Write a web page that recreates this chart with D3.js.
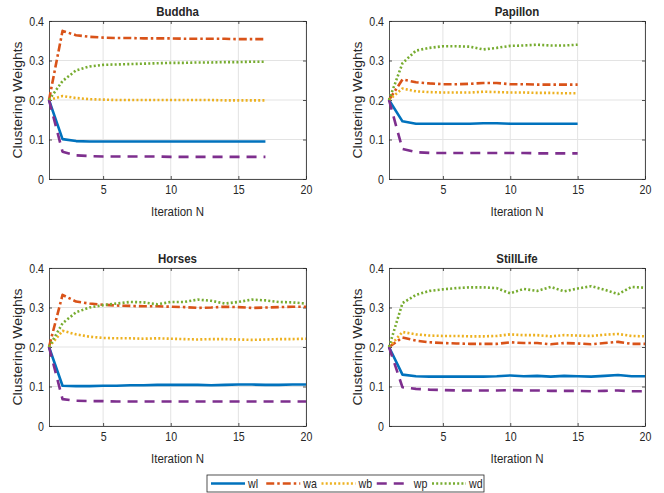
<!DOCTYPE html>
<html><head><meta charset="utf-8">
<script src="https://cdn.jsdelivr.net/npm/d3@7"></script>
<style>body{margin:0;background:#fff}svg{display:block}</style>
</head><body>
<script>
// ---------- data ----------
const seriesNames = ["wl","wa","wb","wp","wd"];
const seriesColors = ["#0072BD","#D95319","#EDB120","#7E2F8E","#77AC30"];
const seriesDash = ["none","8,3,2.5,3","2,2.2","10,7","2,2.2"];
const xTicks = [5,10,15,20];
const yTicks = [0,0.1,0.2,0.3,0.4];
const panelTitles = ["Buddha","Papillon","Horses","StillLife"];

const buddha_wl = [0.2,0.101,0.096,0.095,0.095,0.095,0.095,0.095,0.095,0.095,0.095,0.095,0.095,0.095,0.095,0.095,0.095];
const buddha_wa = [0.2,0.375,0.364,0.36,0.358,0.357,0.357,0.356,0.356,0.356,0.355,0.355,0.355,0.355,0.354,0.354,0.354];
const buddha_wb = [0.2,0.21,0.205,0.202,0.201,0.2,0.2,0.2,0.2,0.2,0.2,0.2,0.2,0.199,0.199,0.199,0.199];
const buddha_wp = [0.2,0.069,0.06,0.058,0.057,0.057,0.057,0.057,0.057,0.056,0.056,0.056,0.056,0.056,0.056,0.056,0.056];
const buddha_wd = [0.2,0.248,0.275,0.285,0.289,0.29,0.291,0.292,0.293,0.294,0.294,0.295,0.295,0.296,0.296,0.297,0.297];

const papillon_wl = [0.2,0.146,0.14,0.14,0.14,0.14,0.14,0.141,0.141,0.14,0.14,0.14,0.14,0.14,0.14];
const papillon_wa = [0.2,0.252,0.245,0.242,0.24,0.24,0.241,0.243,0.243,0.24,0.24,0.239,0.239,0.239,0.239];
const papillon_wb = [0.2,0.229,0.222,0.22,0.219,0.219,0.219,0.221,0.22,0.219,0.219,0.218,0.218,0.217,0.217];
const papillon_wp = [0.2,0.076,0.068,0.066,0.066,0.066,0.066,0.066,0.066,0.066,0.066,0.065,0.065,0.065,0.065];
const papillon_wd = [0.2,0.293,0.325,0.332,0.336,0.336,0.335,0.328,0.332,0.337,0.338,0.34,0.338,0.338,0.34];

const horses_wl = [0.2,0.102,0.101,0.101,0.102,0.102,0.103,0.103,0.104,0.104,0.104,0.104,0.103,0.104,0.105,0.105,0.104,0.104,0.105,0.105];
const horses_wa = [0.2,0.332,0.315,0.31,0.307,0.305,0.304,0.303,0.303,0.302,0.301,0.299,0.3,0.302,0.301,0.299,0.3,0.301,0.302,0.302];
const horses_wb = [0.2,0.241,0.232,0.226,0.223,0.222,0.222,0.221,0.222,0.221,0.22,0.219,0.22,0.22,0.219,0.218,0.219,0.22,0.22,0.221];
const horses_wp = [0.2,0.068,0.064,0.063,0.063,0.062,0.062,0.062,0.062,0.062,0.062,0.062,0.062,0.062,0.062,0.062,0.062,0.062,0.062,0.062];
const horses_wd = [0.2,0.26,0.288,0.3,0.306,0.31,0.314,0.313,0.308,0.314,0.314,0.32,0.317,0.31,0.314,0.32,0.318,0.314,0.313,0.31];

const still_wl = [0.2,0.13,0.126,0.125,0.125,0.125,0.125,0.125,0.126,0.128,0.126,0.127,0.125,0.127,0.126,0.125,0.127,0.129,0.126,0.126];
const still_wa = [0.2,0.224,0.216,0.212,0.21,0.209,0.208,0.208,0.208,0.212,0.21,0.21,0.207,0.21,0.209,0.207,0.21,0.213,0.208,0.208];
const still_wb = [0.2,0.238,0.232,0.229,0.228,0.228,0.227,0.227,0.228,0.232,0.23,0.23,0.227,0.23,0.229,0.228,0.231,0.233,0.228,0.227];
const still_wp = [0.2,0.098,0.094,0.092,0.091,0.09,0.09,0.09,0.09,0.091,0.09,0.09,0.089,0.089,0.089,0.088,0.089,0.09,0.088,0.088];
const still_wd = [0.2,0.311,0.332,0.342,0.346,0.349,0.351,0.351,0.349,0.336,0.347,0.342,0.352,0.341,0.348,0.354,0.345,0.334,0.352,0.35];

const panelData = [
  [buddha_wl,buddha_wa,buddha_wb,buddha_wp,buddha_wd],
  [papillon_wl,papillon_wa,papillon_wb,papillon_wp,papillon_wd],
  [horses_wl,horses_wa,horses_wb,horses_wp,horses_wd],
  [still_wl,still_wa,still_wb,still_wp,still_wd]
];

// ---------- layout ----------
const W = 664, H = 493;
const SX = 0.85; // horizontal text compression
const panels = [
  {x0:49,x1:306,y0:21,y1:179},
  {x0:389,x1:645,y0:21,y1:179},
  {x0:49,x1:306,y0:268,y1:426},
  {x0:389,x1:645,y0:268,y1:426}
];
const ink = "#262626";
const font = "'Liberation Sans', Arial, Helvetica, sans-serif";

const svg = d3.select("body").append("svg").attr("width",W).attr("height",H)
  .style("font-family",font);
svg.append("rect").attr("width",W).attr("height",H).attr("fill","#fff");

function text(g, x, y, str, opts={}) {
  return g.append("text")
    .attr("transform",`translate(${x},${y}) scale(${SX},1)`)
    .attr("text-anchor",opts.anchor||"middle")
    .attr("font-size",opts.size||12)
    .attr("font-weight",opts.bold?"bold":"normal")
    .attr("fill",ink)
    .text(str);
}

panels.forEach((p,i) => {
  const g = svg.append("g");
  const x = d3.scaleLinear().domain([1,20]).range([p.x0,p.x1]);
  const y = d3.scaleLinear().domain([0,0.4]).range([p.y1,p.y0]);

  // grid
  g.append("g").selectAll("line").data(xTicks).join("line")
    .attr("x1",d=>x(d)).attr("x2",d=>x(d)).attr("y1",p.y0).attr("y2",p.y1)
    .attr("stroke","#e3e3e3").attr("stroke-width",1);
  g.append("g").selectAll("line").data(yTicks).join("line")
    .attr("x1",p.x0).attr("x2",p.x1).attr("y1",d=>y(d)).attr("y2",d=>y(d))
    .attr("stroke","#e3e3e3").attr("stroke-width",1);

  // axes
  const ax = g.append("g").attr("transform",`translate(0,${p.y1})`)
    .call(d3.axisBottom(x).tickValues(xTicks).tickSize(-3).tickSizeOuter(0).tickPadding(6).tickFormat(d3.format("d")));
  const ay = g.append("g").attr("transform",`translate(${p.x0},0)`)
    .call(d3.axisLeft(y).tickValues(yTicks).tickSize(-3).tickSizeOuter(0).tickPadding(6).tickFormat(d=>d===0?"0":d3.format(".1f")(d)));
  const axT = g.append("g").attr("transform",`translate(0,${p.y0})`)
    .call(d3.axisTop(x).tickValues(xTicks).tickSize(-3).tickSizeOuter(0).tickFormat(""));
  const ayR = g.append("g").attr("transform",`translate(${p.x1},0)`)
    .call(d3.axisRight(y).tickValues(yTicks).tickSize(-3).tickSizeOuter(0).tickFormat(""));
  [ax,ay,axT,ayR].forEach(a=>{
    a.select(".domain").attr("stroke",ink).attr("stroke-width",0.8);
    a.selectAll(".tick line").attr("stroke",ink).attr("stroke-width",0.8);
    a.selectAll("text").attr("fill",ink).attr("font-size",12.5).attr("font-family",font);
  });
  ax.selectAll(".tick text").attr("transform",`scale(${SX},1)`);
  ay.selectAll(".tick text").attr("x",-5/SX).attr("transform",`scale(${SX},1)`);

  // lines
  const line = d3.line().x((d,j)=>x(j+1)).y(d=>y(d));
  panelData[i].forEach((vals,k)=>{
    g.append("path").datum(vals).attr("d",line)
      .attr("fill","none").attr("stroke",seriesColors[k]).attr("stroke-width",2.6)
      .attr("stroke-dasharray",seriesDash[k]).attr("stroke-linejoin","round");
  });

  // labels
  const cx = (p.x0+p.x1)/2;
  text(g, cx, p.y0-5, panelTitles[i], {bold:true,size:13.5});
  text(g, cx, p.y1+37, "Iteration N", {size:13.5});
  g.append("text")
    .attr("transform",`translate(${p.x0-27},${(p.y0+p.y1)/2}) rotate(-90) scale(1,${SX})`)
    .attr("text-anchor","middle").attr("font-size",14).attr("fill",ink).text("Clustering Weights");
});

// legend
const lg = svg.append("g");
const lx0 = 207, lx1 = 484, ly0 = 475, ly1 = 492;
lg.append("rect").attr("x",lx0).attr("y",ly0).attr("width",lx1-lx0).attr("height",ly1-ly0)
  .attr("fill","#fff").attr("stroke","#262626").attr("stroke-width",0.8);
const legX = d3.scalePoint().domain(seriesNames).range([211,432]);
const lmid = (ly0+ly1)/2;
seriesNames.forEach((n,k)=>{
  const sx = legX(n);
  lg.append("line").attr("x1",sx).attr("x2",sx+34).attr("y1",lmid).attr("y2",lmid)
    .attr("stroke",seriesColors[k]).attr("stroke-width",2.6).attr("stroke-dasharray",seriesDash[k]);
  text(lg, sx+37, lmid+4.5, n, {anchor:"start",size:12.5});
});
</script>
</body></html>
